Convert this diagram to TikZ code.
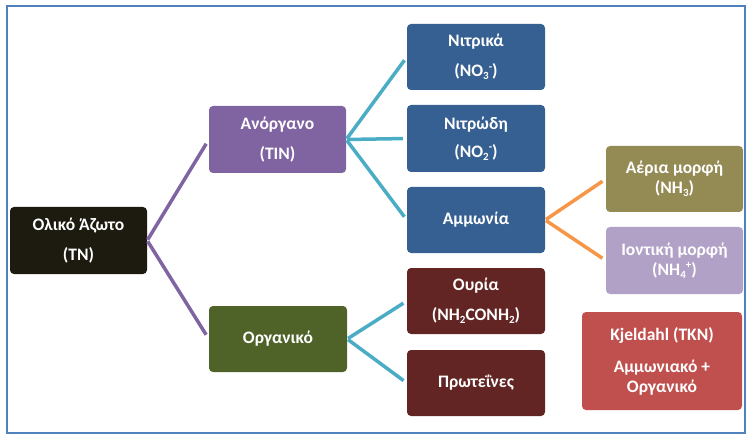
\documentclass[tikz,border=0pt]{standalone}
\usepackage{fontspec}
\setmainfont{Carlito}
\definecolor{cTN}{HTML}{1D1B10}
\definecolor{cTIN}{HTML}{8064A2}
\definecolor{cORG}{HTML}{4F6228}
\definecolor{cBLU}{HTML}{376092}
\definecolor{cRED}{HTML}{632523}
\definecolor{cGAS}{HTML}{948A54}
\definecolor{cION}{HTML}{B2A1C7}
\definecolor{cTKN}{HTML}{C0504D}
\definecolor{lPUR}{HTML}{8064A2}
\definecolor{lCYA}{HTML}{4BACC6}
\definecolor{lORA}{HTML}{F79646}
\definecolor{cFRM}{HTML}{4F81BD}
\newcommand{\dnx}[1]{\raisebox{-0.35ex}{\fontsize{11}{11}\selectfont #1}}
\newcommand{\upx}[1]{\raisebox{0.75ex}{\fontsize{11}{11}\selectfont #1}}
\begin{document}
\begin{tikzpicture}[x=1pt,y=-1pt,
  box/.style={rectangle, rounded corners=4pt, inner sep=0pt, text=white, align=center,
    font=\fontsize{17.5}{20}\selectfont\bfseries, minimum width=137pt, minimum height=66pt},
  conn/.style={line width=3.5pt, shorten <=1pt, shorten >=5pt}
]
\useasboundingbox (0,0) rectangle (753,441);
\draw[cFRM, line width=1.5pt] (7,6) rectangle (745,433);

\node[box, fill=cTN, minimum height=67pt] (tn) at (78.5,240.5) {Ολικό Άζωτο\\[10pt](TN)};
\node[box, fill=cTIN, minimum height=67pt] (tin) at (277.5,139.5) {Ανόργανο\\[10pt](TIN)};
\node[box, fill=cORG, minimum width=138pt] (org) at (278,339) {Οργανικό};

\node[box, fill=cBLU, minimum width=138pt] (no3) at (476,57) {Νιτρικά\\[10pt](NO\dnx{3}\upx{-})};
\node[box, fill=cBLU, minimum width=138pt, minimum height=67pt] (no2) at (476,138.5) {Νιτρώδη\\[8pt](NO\dnx{2}\upx{-})};
\node[box, fill=cBLU, minimum width=138pt] (amm) at (476,220) {Αμμωνία};
\node[box, fill=cRED, minimum width=138pt] (ur) at (476,301) {Ουρία\\[10pt](NH\dnx{2}CONH\dnx{2})};
\node[box, fill=cRED, minimum width=138pt] (pr) at (476,383) {Πρωτεΐνες};

\node[box, fill=cGAS] (gas) at (674.5,179) {Αέρια μορφή\\(NH\dnx{3})};
\node[box, fill=cION, minimum height=67pt] (ion) at (674.5,260.5) {Ιοντική μορφή\\(NH\dnx{4}\upx{+})};

\node[box, fill=cTKN, minimum width=160pt, minimum height=98pt] (tkn) at (662,361) {Kjeldahl (TKN)\\[12pt]Αμμωνιακό +\\Οργανικό};

\draw[conn, lPUR] (tn.east) -- (tin.west);
\draw[conn, lPUR] (tn.east) -- (org.west);
\draw[conn, lCYA, shorten >=4pt] (tin.east) -- (no3.west);
\draw[conn, lCYA, shorten >=4pt] (tin.east) -- (no2.west);
\draw[conn, lCYA, shorten >=4pt] (tin.east) -- (amm.west);
\draw[conn, lCYA, shorten >=4pt] (org.east) -- (ur.west);
\draw[conn, lCYA, shorten >=4pt] (org.east) -- (pr.west);
\draw[conn, lORA, shorten >=4pt] (amm.east) -- (gas.west);
\draw[conn, lORA, shorten >=4pt] (amm.east) -- (ion.west);
\end{tikzpicture}
\end{document}
